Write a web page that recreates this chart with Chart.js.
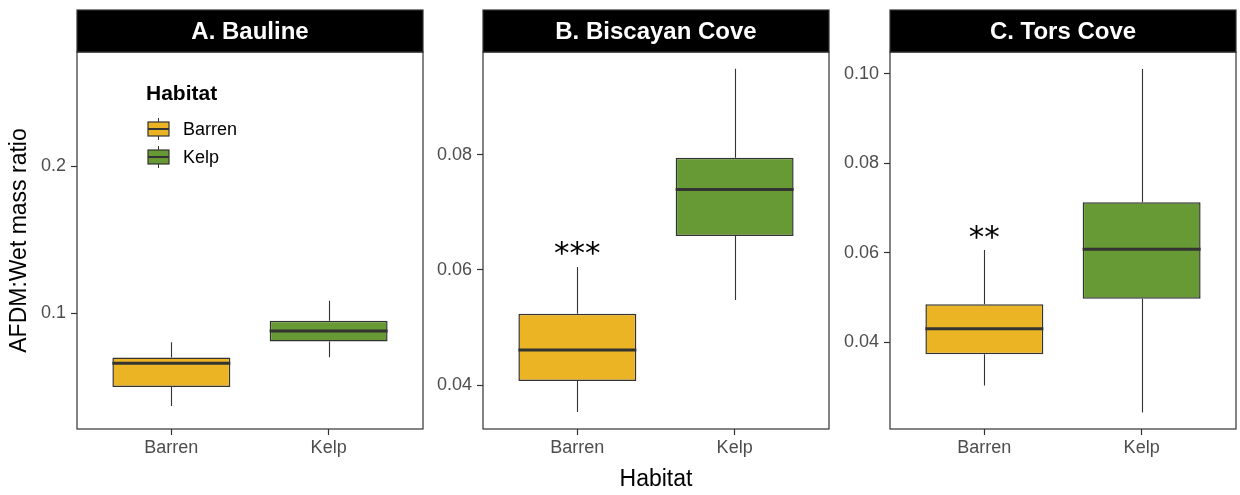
<!DOCTYPE html>
<html>
<head>
<meta charset="utf-8">
<script src="https://cdn.jsdelivr.net/npm/chart.js@4.4.1/dist/chart.umd.min.js"></script>
<style>
  body { margin: 0; background: #fff; }
  #wrap { position: relative; width: 1240px; height: 495px; }
  canvas { position: absolute; top: 0; }
</style>
</head>
<body>
<div id="wrap">
  <canvas id="c0" width="430" height="495" style="left:0px"></canvas>
  <canvas id="c1" width="406" height="495" style="left:430px"></canvas>
  <canvas id="c2" width="404" height="495" style="left:836px"></canvas>
</div>
<script>
'use strict';

// data (one entry per site, then [Barren, Kelp])
const habitats = ['Barren', 'Kelp'];
const sites = ['A. Bauline', 'B. Biscayan Cove', 'C. Tors Cove'];
const whiskerLow = [[0.0367, 0.0699], [0.0353, 0.0548], [0.0303, 0.0243]];
const q1 = [[0.0496, 0.0807], [0.0407, 0.0659], [0.0373, 0.0497]];
const medians = [[0.0659, 0.0878], [0.0461, 0.0740], [0.0430, 0.0608]];
const q3 = [[0.0697, 0.0948], [0.0524, 0.0795], [0.0485, 0.0713]];
const whiskerHigh = [[0.0801, 0.1084], [0.0605, 0.0950], [0.0606, 0.1011]];
const stars = ['', '***', '**'];
const starValue = [null, 0.0641, 0.0651];
const yTicks = [['0.1', '0.2'], ['0.04', '0.06', '0.08'], ['0.04', '0.06', '0.08', '0.10']];
const yMin = [0.0211, 0.03235, 0.0206];
const yMax = [0.2776, 0.0979, 0.1049];

const fills = ['#EBB424', '#679A35'];
const dark = '#333333';
const FONT = '"Liberation Sans", Arial, Helvetica, sans-serif';

// layout of each canvas: y axis width and right padding
const yWidth = [77, 53, 54];
const padRight = [7, 7, 4];

Chart.defaults.font.family = FONT;

const boxPlugin = {
  id: 'boxes',
  beforeDatasetsDraw(chart) {
    const p = chart.options.panel;
    const ctx = chart.ctx;
    const x = chart.scales.x;
    const y = chart.scales.y;
    ctx.save();
    ctx.strokeStyle = dark;
    ctx.lineWidth = 1.1;
    for (let i = 0; i < habitats.length; i++) {
      const px = Math.round(x.getPixelForValue(i + 1)) + 0.5;
      ctx.beginPath();
      ctx.moveTo(px, y.getPixelForValue(whiskerLow[p][i]));
      ctx.lineTo(px, y.getPixelForValue(q1[p][i]));
      ctx.moveTo(px, y.getPixelForValue(q3[p][i]));
      ctx.lineTo(px, y.getPixelForValue(whiskerHigh[p][i]));
      ctx.stroke();
    }
    ctx.restore();
  },
  afterDatasetsDraw(chart) {
    const p = chart.options.panel;
    const ctx = chart.ctx;
    const y = chart.scales.y;
    const meta = chart.getDatasetMeta(0);
    ctx.save();
    ctx.strokeStyle = dark;
    ctx.lineWidth = 3;
    for (let i = 0; i < habitats.length; i++) {
      const bar = meta.data[i];
      const py = y.getPixelForValue(medians[p][i]);
      ctx.beginPath();
      ctx.moveTo(bar.x - bar.width / 2, py);
      ctx.lineTo(bar.x + bar.width / 2, py);
      ctx.stroke();
    }
    // significance stars above the Barren box
    if (stars[p]) {
      ctx.fillStyle = '#000';
      ctx.font = '31px "DejaVu Sans"';
      ctx.textAlign = 'center';
      ctx.textBaseline = 'alphabetic';
      ctx.fillText(stars[p], meta.data[0].x, y.getPixelForValue(starValue[p]) + 17);
    }
    ctx.restore();
  },
  afterDraw(chart) {
    const p = chart.options.panel;
    const ctx = chart.ctx;
    const a = chart.chartArea;
    ctx.save();
    // panel border
    ctx.strokeStyle = dark;
    ctx.lineWidth = 1.2;
    ctx.strokeRect(a.left, a.top, a.right - a.left, a.bottom - a.top);
    // strip
    ctx.fillStyle = '#000';
    ctx.fillRect(a.left, 10, a.right - a.left, a.top - 10);
    ctx.strokeRect(a.left, 10, a.right - a.left, a.top - 10);
    ctx.fillStyle = '#fff';
    ctx.font = 'bold 24px ' + FONT;
    ctx.textAlign = 'center';
    ctx.textBaseline = 'middle';
    ctx.fillText(sites[p], (a.left + a.right) / 2, 32);

    // legend inside first panel
    if (p === 0) {
      ctx.textAlign = 'left';
      ctx.fillStyle = '#000';
      ctx.font = 'bold 21px ' + FONT;
      ctx.fillText('Habitat', 146, 94);
      ctx.font = '18px ' + FONT;
      for (let i = 0; i < habitats.length; i++) {
        const cy = 129 + i * 28;
        ctx.strokeStyle = dark;
        ctx.lineWidth = 1;
        ctx.beginPath();
        ctx.moveTo(158.5, cy - 11);
        ctx.lineTo(158.5, cy + 11);
        ctx.stroke();
        ctx.fillStyle = fills[i];
        ctx.fillRect(148, cy - 7, 21, 14);
        ctx.lineWidth = 1.2;
        ctx.strokeRect(148, cy - 7, 21, 14);
        ctx.lineWidth = 2;
        ctx.beginPath();
        ctx.moveTo(148, cy);
        ctx.lineTo(169, cy);
        ctx.stroke();
        ctx.fillStyle = '#000';
        ctx.fillText(habitats[i], 183, cy + 1);
      }
    }
    ctx.restore();
  }
};

function makePanel(p) {
  const boxData = habitats.map((h, i) => ({ x: i + 1, y: [q1[p][i], q3[p][i]] }));
  const tickValues = yTicks[p].map(Number);

  const config = {
    type: 'bar',
    data: {
      datasets: [{
        data: boxData,
        backgroundColor: fills,
        borderColor: dark,
        borderWidth: 1.5,
        borderSkipped: false,
        barPercentage: 0.75,
        categoryPercentage: 1
      }]
    },
    options: {
      panel: p,
      responsive: false,
      animation: false,
      events: [],
      layout: { padding: { top: 52, right: padRight[p], left: 0, bottom: 0 } },
      plugins: { legend: { display: false }, tooltip: { enabled: false } },
      scales: {
        x: {
          type: 'linear',
          min: 0.4,
          max: 2.6,
          offset: false,
          afterBuildTicks: (s) => { s.ticks = habitats.map((h, i) => ({ value: i + 1 })); },
          afterFit: (s) => { s.height = 66; },
          ticks: {
            callback: (v) => habitats[Math.round(v) - 1],
            color: '#4d4d4d',
            font: { size: 18 },
            padding: 2,
            maxRotation: 0,
            autoSkip: false
          },
          grid: { offset: false, drawOnChartArea: false, tickLength: 6, color: dark, tickWidth: 1.2 },
          border: { display: false },
          title: {
            display: p === 1,
            text: 'Habitat',
            color: '#000',
            font: { size: 23 },
            padding: { top: 0, bottom: 2 }
          }
        },
        y: {
          min: yMin[p],
          max: yMax[p],
          afterBuildTicks: (s) => { s.ticks = tickValues.map(v => ({ value: v })); },
          afterFit: (s) => { s.width = yWidth[p]; },
          ticks: {
            callback: (v) => yTicks[p][tickValues.indexOf(v)],
            color: '#4d4d4d',
            font: { size: 18 },
            padding: 5
          },
          grid: { drawOnChartArea: false, tickLength: 6, color: dark, tickWidth: 1.2 },
          border: { display: false },
          title: {
            display: p === 0,
            text: 'AFDM:Wet mass ratio',
            color: '#000',
            font: { size: 23 },
            padding: { top: 6, bottom: 0 }
          }
        }
      }
    },
    plugins: [boxPlugin]
  };

  new Chart(document.getElementById('c' + p), config);
}

for (let p = 0; p < sites.length; p++) {
  makePanel(p);
}
</script>
</body>
</html>
